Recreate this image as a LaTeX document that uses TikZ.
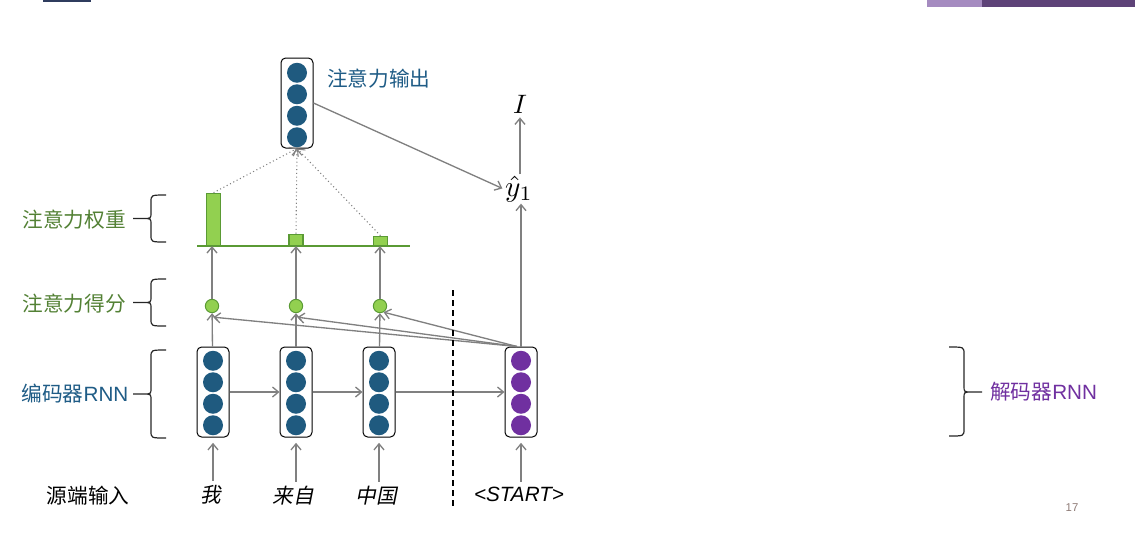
\documentclass[tikz,border=0pt]{standalone}
\usepackage{fontspec}
\setmainfont{Liberation Sans}
\newfontfamily\cjk{Noto Sans CJK SC}
\newfontfamily\cjkit[FakeSlant=0.2]{Noto Sans CJK SC}
\usetikzlibrary{arrows.meta,positioning,calc}

\definecolor{encblue}{HTML}{1F5A7F}
\definecolor{decpurple}{HTML}{7030A0}
\definecolor{scorefill}{HTML}{92D050}
\definecolor{scoreline}{HTML}{5A9A34}
\definecolor{labelgreen}{HTML}{538135}
\definecolor{labelblue}{HTML}{1F5C86}
\definecolor{arrowgray}{HTML}{808080}
\definecolor{navybar}{HTML}{2F3C5E}
\definecolor{lightbar}{HTML}{A58BC0}
\definecolor{darkbar}{HTML}{5E4378}
\definecolor{pagenum}{HTML}{8E7B76}

\begin{document}
\begin{tikzpicture}[
  x=0.75pt, y=-0.75pt,
  font=\fontsize{15.5}{18}\selectfont,
  cell/.style={rectangle, draw=black, line width=0.75pt, rounded corners=3.5pt,
    minimum width=24pt, minimum height=67.5pt, inner sep=0pt},
  unit/.style={circle, inner sep=0pt, minimum size=15pt},
  score/.style={circle, fill=scorefill, draw=scoreline, line width=0.75pt,
    inner sep=0pt, minimum size=10pt},
  weight/.style={rectangle, fill=scorefill, draw=scoreline, line width=1pt,
    inner sep=0pt, minimum width=10.5pt, anchor=south},
  word/.style={font=\fontsize{15.5}{18}\selectfont\cjkit},
  greenlbl/.style={text=labelgreen, font=\fontsize{15.5}{18}\selectfont\cjk},
  bluelbl/.style={text=labelblue},
  mathlbl/.style={font=\normalsize, inner sep=1pt},
  arrow/.style={-{Straight Barb[length=4.5pt,width=7.5pt]}, draw=arrowgray, line width=1pt},
  dotarrow/.style={arrow, line width=0.8pt, dotted},
  brace/.style={draw=black!85, line width=0.9pt}
]
\useasboundingbox (0,0) rectangle (1137,537);

% Slide decorations
\fill[navybar] (43,0) rectangle (91,2);
\fill[lightbar] (927,0) rectangle (982,6.5);
\fill[darkbar] (982,0) rectangle (1135,6.5);

% Encoder cells
\foreach \name/\x in {enc1/213, enc2/296, enc3/379} {
  \node[cell] (\name) at (\x,392) {};
  \foreach \k in {-1.5,-0.5,0.5,1.5}
    \node[unit, fill=encblue] at (\x,393+\k*21.5) {};
}

% Decoder cell
\node[cell] (dec) at (521,392) {};
\foreach \k in {-1.5,-0.5,0.5,1.5}
  \node[unit, fill=decpurple] at (521,393+\k*21.5) {};

% Attention output
\node[cell] (out) at (297,103) {};
\foreach \k in {-1.5,-0.5,0.5,1.5}
  \node[unit, fill=encblue] at (297,105+\k*21.5) {};
\node[bluelbl, anchor=west, inner sep=0pt] (outlbl) at (327,79) {\cjk 注意力输出};

% Attention scores
\node[score] (s1) at (212,306) {};
\node[score] (s2) at (296,306) {};
\node[score] (s3) at (380,306) {};

% Attention weights
\draw[draw=scoreline, line width=1pt] (197,246) -- (410,246);
\node[weight, minimum height=39pt] (b1) at (213.5,246) {};
\node[weight, minimum height=8.25pt] (b2) at (296,246) {};
\node[weight, minimum height=6.75pt] (b3) at (380.5,246) {};

% Outputs
\node[mathlbl] (yhat) at (519,189) {\scalebox{2.2}{$\hat{y}_1$}};
\node[mathlbl] (I) at (520,104) {\scalebox{2}{$I$}};

% Source words
\node[word] (w1) at (211,495) {我};
\node[word] (w2) at (293,496) {来自};
\node[word] (w3) at (376,496) {中国};
\node (w4) at (519,494) {\textit{<START>}};

% Arrows
\draw[arrow, shorten >=4pt] (enc1 |- w1.north) -- (enc1);
\draw[arrow, shorten >=4pt] (enc2 |- w2.north) -- (enc2);
\draw[arrow, shorten >=4pt] (enc3 |- w3.north) -- (enc3);
\draw[arrow, shorten >=4pt] (dec |- w4.north) -- (dec);
\draw[arrow] (enc1) -- (enc2);
\draw[arrow] (enc2) -- (enc3);
\draw[arrow] (enc3) -- (dec);
\draw[arrow] (enc1) -- (s1);
\draw[arrow] (enc2) -- (s2);
\draw[arrow] (enc3) -- (s3);
\draw[arrow] ([xshift=-3pt]dec.north) -- ([xshift=1pt,yshift=-3pt]s1.south);
\draw[arrow] ([xshift=-3pt]dec.north) -- ([xshift=1pt,yshift=-3pt]s2.south);
\draw[arrow] ([xshift=-3pt]dec.north) -- (s3.-60);
\draw[arrow] (s1) -- (s1 |- b1.south);
\draw[arrow] (s2) -- (b2.south);
\draw[arrow] (s3) -- (s3 |- b3.south);
\draw[dotarrow] (b1.north) -- (out.south);
\draw[dotarrow] (b2.north) -- (out.south);
\draw[dotarrow] (b3.north) -- (out.south);
\draw[arrow, shorten >=1pt] (out.east) -- (yhat.west);
\draw[arrow] (dec.north) -- (dec.north |- yhat.south);
\draw[arrow, shorten >=2pt] (yhat.north -| I) -- (I.south);

% Encoder / decoder split
\draw[dashed, dash pattern=on 4.5pt off 3pt, line width=1pt] (453,290) -- (453,506);

% Left braces
\foreach \t/\b in {195/242, 279/326, 350/438} {
  \draw[brace] (166,\t) .. controls (151,\t) .. (151,\t+7) -- (151,{(\t+\b)/2-6})
    .. controls (151,{(\t+\b)/2}) .. (143,{(\t+\b)/2}) -- (133,{(\t+\b)/2})
    (143,{(\t+\b)/2}) .. controls (151,{(\t+\b)/2}) .. (151,{(\t+\b)/2+6})
    -- (151,\b-7) .. controls (151,\b) .. (166,\b);
}

% Right brace
\draw[brace] (949,347) .. controls (964,347) .. (964,354) -- (964,386)
  .. controls (964,392) .. (972,392) -- (982,392)
  (972,392) .. controls (964,392) .. (964,398) -- (964,429)
  .. controls (964,436) .. (949,436);

% Labels
\node[greenlbl] (wlbl) at (74,220) {注意力权重};
\node[greenlbl] (slbl) at (74,304) {注意力得分};
\node[bluelbl] (elbl) at (75,394) {{\cjk 编码器}RNN};
\node[text=decpurple, anchor=west, inner sep=0pt] (dlbl) at (990,392) {{\cjk 解码器}RNN};
\node[font=\fontsize{15.5}{18}\selectfont\cjk] (srclbl) at (88,496) {源端输入};
\node[text=pagenum, font=\fontsize{8.5}{10}\selectfont] (page) at (1072,508) {17};

\end{tikzpicture}
\end{document}
